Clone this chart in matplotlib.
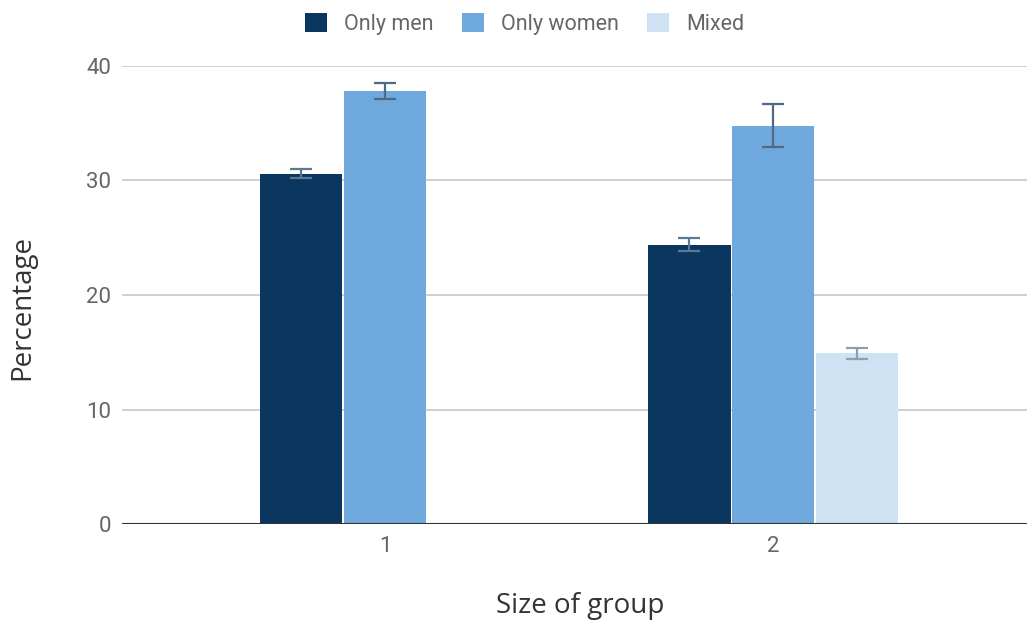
import matplotlib
matplotlib.use("Agg")
import matplotlib.pyplot as plt
import numpy as np

categories = ["1", "2"]
series_names = ["Only men", "Only women", "Mixed"]
only_men = [30.6, 24.4]
only_women = [37.8, 34.8]
mixed = [0.0, 14.9]
err_men = [0.4, 0.6]
err_women = [0.7, 1.85]
err_mixed = [0.0, 0.45]
y_ticks = [0, 10, 20, 30, 40]

colors = ["#0b365f", "#6fa8dc", "#cfe2f3"]
err_colors = ["#5b7896", "#4f6a86", "#8a9fb3"]

plt.rcParams['font.family'] = ['Roboto', 'DejaVu Sans']

fig = plt.figure(figsize=(10.27, 6.21), dpi=100)
ax = fig.add_axes([122/1027, 1 - 524/621, 1 - 122/1027, (524 - 66)/621])

x = np.arange(len(categories))
w = 0.212
offsets = [-0.216, 0.0, 0.216]
vals = [only_men, only_women, mixed]
errs = [err_men, err_women, err_mixed]
for i, (v, e) in enumerate(zip(vals, errs)):
    ax.bar(x + offsets[i], v, width=w, color=colors[i], label=series_names[i], zorder=3)
    for xi, vi, ei in zip(x + offsets[i], v, e):
        if vi > 0:
            ax.errorbar(xi, vi, yerr=ei, fmt='none', ecolor=err_colors[i], elinewidth=1.6,
                        capsize=8, capthick=1.6, zorder=4)

ax.set_xlim(-0.678, 1.654)
ax.set_ylim(0, 40)
ax.set_yticks(y_ticks)
ax.set_xticks(x)
ax.set_xticklabels(categories)
ax.grid(axis='y', color='#cccccc', linewidth=1.3, zorder=0)
ax.axhline(0, color='#333333', linewidth=1.5, zorder=5)
for s in ax.spines.values():
    s.set_visible(False)
ax.tick_params(axis='both', length=0, labelsize=16, labelcolor='#666666')
ax.tick_params(axis='y', pad=8)
ax.tick_params(axis='x', pad=9)

fig.text(22/1027, 1 - 307/621, "Percentage", rotation=90, ha='center', va='center',
         fontsize=20, color='#333333', family=['Open Sans', 'DejaVu Sans'])
fig.text(580/1027, 1 - 606/621, "Size of group", ha='center', va='center',
         fontsize=20, color='#333333', family=['Open Sans', 'DejaVu Sans'])

fig.legend(loc='upper center', bbox_to_anchor=(0.511, 1.011), ncol=3, frameon=False,
           fontsize=15.5, handlelength=1.0, handleheight=1.0, columnspacing=1.33,
           handletextpad=0.8, labelcolor='#666666')

fig.savefig("out.png", dpi=100)
